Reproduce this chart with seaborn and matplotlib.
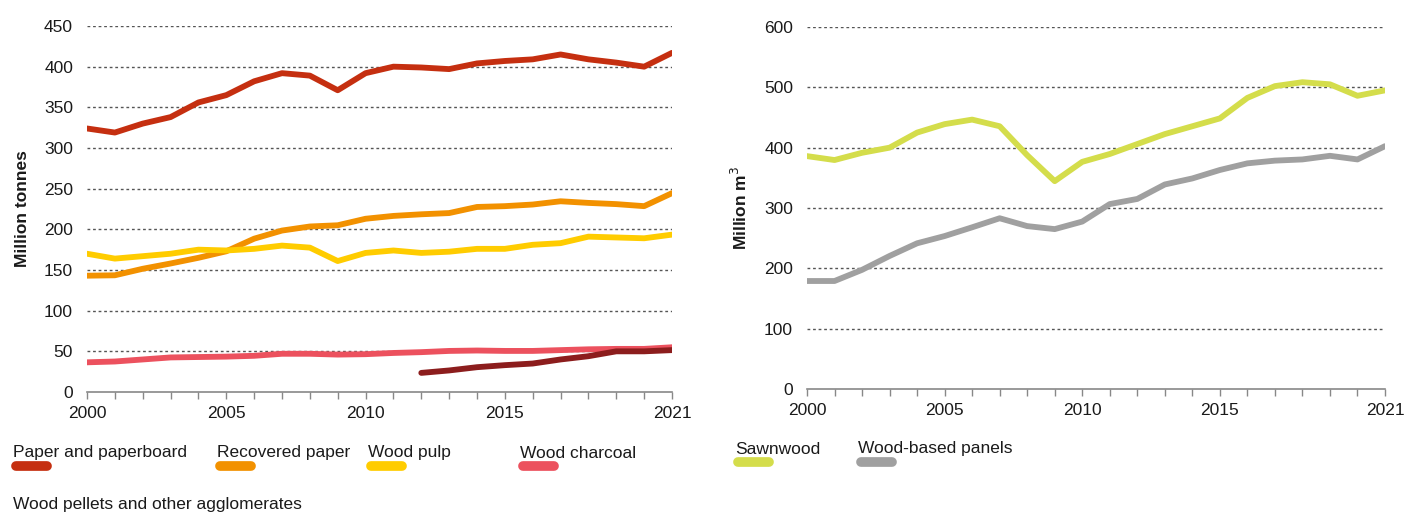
import numpy as np
import pandas as pd
import matplotlib
matplotlib.use("Agg")
import matplotlib.pyplot as plt
from matplotlib.lines import Line2D
import seaborn as sns

years = list(range(2000, 2022))

paper = [324, 319, 330, 338, 356, 365, 382, 392, 389, 371, 392, 400, 399, 397, 404, 407, 409, 415, 409, 405, 400, 417]
recovered = [143, 143.5, 151.5, 158, 165, 173, 188.5, 198.5, 203.5, 205, 213, 216.5, 218.5, 220, 227.5, 228.5, 230.5, 234.5, 232.5, 231, 228.5, 244.5]
pulp = [170, 164, 167, 170, 175, 174, 176, 180, 177.5, 161, 171, 174, 171, 172.5, 176, 176, 181, 183, 191, 190, 189, 193.5]
charcoal = [36.5, 37.5, 40, 42.5, 43, 43.5, 44.5, 47, 47, 46, 46.5, 48, 49, 50.5, 51, 50.5, 50.5, 51.5, 52.5, 53, 53, 55]
pellet_years = list(range(2012, 2022))
pellets = [23.5, 26.5, 30.5, 33, 35, 40, 44, 50, 50, 51.5]

sawnwood = [386, 379.5, 391.5, 400, 425, 439, 446.5, 435.5, 387.5, 344.5, 376.5, 389.5, 406, 422.5, 435.5, 448.5, 482.5, 502, 508.5, 505, 486, 495]
panels = [179, 179, 197.5, 220.5, 241.5, 253.5, 268, 283, 270, 265, 277.5, 306.5, 315, 339, 349, 363, 374, 378.5, 380.5, 386.5, 380.5, 402.5]

left_names = ["Paper and paperboard", "Recovered paper", "Wood pulp", "Wood charcoal", "Wood pellets and other agglomerates"]
right_names = ["Sawnwood", "Wood-based panels"]
left_colors = ["#C52F10", "#F29100", "#FFCC00", "#EC515E", "#8C1D1D"]
right_colors = ["#D4DD4B", "#A0A0A0"]

xtick_labels = [2000, 2005, 2010, 2015, 2021]

rows = []
for name, vals in zip(left_names[:4], [paper, recovered, pulp, charcoal]):
    for y, v in zip(years, vals):
        rows.append((name, y, v))
for y, v in zip(pellet_years, pellets):
    rows.append((left_names[4], y, v))
df_left = pd.DataFrame(rows, columns=["series", "year", "value"])

rows = []
for name, vals in zip(right_names, [sawnwood, panels]):
    for y, v in zip(years, vals):
        rows.append((name, y, v))
df_right = pd.DataFrame(rows, columns=["series", "year", "value"])

sns.set_theme(style="white")
font_list = ["Liberation Sans", "DejaVu Sans"]
plt.rcParams["font.family"] = font_list
text_color = "#1a1a1a"
FS = 12.5

fig = plt.figure(figsize=(14.05, 5.18), dpi=100)
axL = fig.add_axes([87 / 1405, 1 - 392 / 518, (672 - 87) / 1405, (392 - 26) / 518])
axR = fig.add_axes([807 / 1405, 1 - 389 / 518, (1385 - 807) / 1405, (389 - 27) / 518])


def style_axis(ax, ymax, ystep, ylabel):
    ax.set_xlim(2000, 2021)
    ax.set_ylim(0, ymax)
    ax.set_yticks(np.arange(0, ymax + 1, ystep))
    ax.set_xticks(xtick_labels)
    ax.set_xticklabels([str(x) for x in xtick_labels])
    ax.set_xticks(years, minor=True)
    for s in ["top", "right", "left"]:
        ax.spines[s].set_visible(False)
    ax.spines["bottom"].set_color("#888888")
    ax.spines["bottom"].set_linewidth(1.2)
    ax.tick_params(axis="x", which="both", direction="out", length=5, width=1, color="#888888",
                   labelsize=FS, labelcolor=text_color, pad=5, bottom=True)
    ax.tick_params(axis="y", length=0, labelsize=FS, labelcolor=text_color, pad=10)
    for t in ax.get_yticks():
        if t > 0:
            ax.axhline(t, color="#555555", lw=1.0, ls=(0, (2, 2)), zorder=0)
    ax.set_xlabel("")
    ax.set_ylabel(ylabel, fontsize=FS, fontweight="bold", color=text_color, labelpad=10)
    ax.grid(False)


sns.lineplot(data=df_left, x="year", y="value", hue="series", hue_order=left_names,
             palette=left_colors, linewidth=4.2, ax=axL, legend=False, zorder=3)
for ln in axL.get_lines():
    ln.set_solid_capstyle("round")
    ln.set_solid_joinstyle("round")
style_axis(axL, 450, 50, "Million tonnes")

sns.lineplot(data=df_right, x="year", y="value", hue="series", hue_order=right_names,
             palette=right_colors, linewidth=4.2, ax=axR, legend=False, zorder=3)
for ln in axR.get_lines():
    ln.set_solid_capstyle("round")
    ln.set_solid_joinstyle("round")
style_axis(axR, 600, 100, "Million m$^3$")

# custom legends: text above swatch
W, H = 1405, 518


def legend_item(x, y_text, label, color, swatch=True):
    fig.text(x / W, 1 - y_text / H, label, fontsize=FS, color=text_color, va="center", ha="left")
    if swatch:
        yy = 1 - (y_text + 13) / H
        fig.add_artist(Line2D([(x + 3) / W, (x + 34) / W], [yy, yy], color=color, lw=7,
                              solid_capstyle="round", transform=fig.transFigure))


left_pos = [(13, 453), (217, 453), (368, 453), (520, 453), (13, 505)]
for (x, y), name, col in zip(left_pos, left_names, left_colors):
    legend_item(x, y, name, col, swatch=(y < 500))

right_pos = [(735, 449), (858, 449)]
for (x, y), name, col in zip(right_pos, right_names, right_colors):
    legend_item(x, y, name, col)

fig.savefig("out.png", dpi=100)
